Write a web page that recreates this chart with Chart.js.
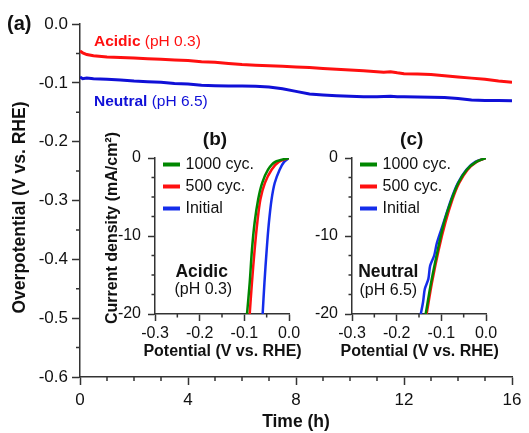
<!DOCTYPE html>
<html>
<head>
<meta charset="utf-8">
<script src="https://cdn.jsdelivr.net/npm/chart.js@4.4.0/dist/chart.umd.min.js"></script>
<style>
  body { margin: 0; background: #fff; }
  #wrap { position: relative; width: 529px; height: 433px; }
  canvas { position: absolute; }
</style>
</head>
<body>
<div id="wrap">
  <canvas id="main" width="529" height="433" style="left:0;top:0"></canvas>
  <canvas id="acid" width="214" height="242" style="left:90px;top:124px"></canvas>
  <canvas id="neut" width="214" height="242" style="left:302px;top:124px"></canvas>
</div>
<script>
// (a) chronopotentiometry, overpotential vs time
const timeHours = [0, 0.1, 0.25, 0.5, 1, 1.5, 2, 2.5, 3, 3.5, 4, 4.5, 5, 5.5, 6, 6.5, 7, 7.5, 8, 8.5,
  9, 9.5, 10, 10.5, 11, 11.25, 11.5, 11.75, 12, 12.5, 13, 13.5, 14, 14.5, 15, 15.5, 16];
const acidicOverpotential = [-0.046, -0.049, -0.052, -0.054, -0.056, -0.057, -0.058, -0.059, -0.060, -0.061,
  -0.062, -0.064, -0.065, -0.067, -0.069, -0.070, -0.071, -0.072, -0.073, -0.074, -0.0755, -0.077, -0.078,
  -0.0795, -0.081, -0.0818, -0.0812, -0.083, -0.0845, -0.085, -0.086, -0.088, -0.090, -0.092, -0.094, -0.097, -0.099];
const neutralOverpotential = [-0.090, -0.093, -0.092, -0.093, -0.094, -0.095, -0.097, -0.098, -0.099, -0.101,
  -0.102, -0.104, -0.105, -0.1055, -0.1055, -0.106, -0.107, -0.110, -0.1145, -0.119, -0.1205, -0.122, -0.123,
  -0.1238, -0.1236, -0.1234, -0.123, -0.1235, -0.1236, -0.124, -0.1245, -0.125, -0.1265, -0.129, -0.130, -0.130, -0.1305];

// (b) polarization curves, acidic
const acidCurrent = [0, -0.5, -1.5, -3.2, -5.3, -8.3, -11.8, -16, -20];
const acidPot1000 = [0, -0.031, -0.047, -0.060, -0.069, -0.077, -0.083, -0.088, -0.094];
const acidPot500 = [0, -0.023, -0.039, -0.054, -0.064, -0.071, -0.077, -0.083, -0.088];
const acidPotInitial = [0, -0.011, -0.021, -0.032, -0.039, -0.045, -0.050, -0.055, -0.059];

// (c) polarization curves, neutral
const neutCurrent = [0, -0.5, -1.5, -3.2, -5.3, -8.3, -11.8, -16, -20];
const neutPot1000 = [0, -0.022, -0.043, -0.062, -0.077, -0.094, -0.108, -0.123, -0.135];
const neutPot500 = [0, -0.021, -0.041, -0.060, -0.075, -0.091, -0.106, -0.121, -0.133];
const neutCurrentInitial = [0, -0.5, -1.5, -3.2, -5.3, -8.3, -10.9, -12.5, -13.8, -15.5, -16.8, -18.5, -20];
const neutPotInitial = [0, -0.024, -0.044, -0.063, -0.078, -0.095, -0.110, -0.116, -0.125, -0.129, -0.137, -0.141, -0.146];

const cycleLabels = ['1000 cyc.', '500 cyc.', 'Initial'];

const FONT = "'Liberation Sans', Arial, sans-serif";
const AXIS = '#333';
const INK = '#111';
const RED = 'rgb(255,16,16)';
const BLUE = 'rgb(16,16,215)';
const GREEN = 'rgb(0,135,0)';
const LBLUE = 'rgb(20,45,235)';

Chart.defaults.font.family = FONT;
Chart.defaults.color = INK;

const pairs = (xs, ys) => xs.map((x, i) => ({ x: x, y: ys[i] }));
const fmt1 = v => (Math.abs(v) < 1e-9 ? 0 : v).toFixed(1);

// short unlabeled ticks between the major ones
const minorTicks = {
  id: 'minorTicks',
  afterDraw(chart, args, opts) {
    const { ctx } = chart;
    const xs = chart.scales.x, ys = chart.scales.y;
    ctx.save();
    ctx.strokeStyle = AXIS;
    ctx.lineWidth = 1.5;
    ctx.beginPath();
    const nx = Math.round((xs.max - xs.min) / opts.xStep);
    for (let i = 1; i < nx; i++) {
      if (i % opts.xEvery === 0) continue;
      const px = xs.getPixelForValue(xs.min + i * opts.xStep);
      ctx.moveTo(px, xs.top);
      ctx.lineTo(px, xs.top + opts.len);
    }
    const ny = Math.round((ys.max - ys.min) / opts.yStep);
    for (let i = 1; i < ny; i++) {
      if (i % opts.yEvery === 0) continue;
      const py = ys.getPixelForValue(ys.min + i * opts.yStep);
      ctx.moveTo(ys.right, py);
      ctx.lineTo(ys.right - opts.len, py);
    }
    ctx.stroke();
    ctx.restore();
  }
};

// free text: panel letters, axis titles wider than the axis, in-plot notes
const textLayer = {
  id: 'textLayer',
  afterDraw(chart, args, opts) {
    const { ctx } = chart;
    for (const item of opts.items) {
      ctx.save();
      ctx.translate(item.x, item.y);
      if (item.rotate) ctx.rotate(item.rotate);
      ctx.textBaseline = 'middle';
      ctx.textAlign = 'left';
      const fonts = item.runs.map(r => (r.bold ? 'bold ' : '') + r.size + 'px ' + FONT);
      let total = 0;
      const widths = item.runs.map((r, i) => { ctx.font = fonts[i]; const w = ctx.measureText(r.text).width; total += w; return w; });
      let x = item.align === 'center' ? -total / 2 : 0;
      item.runs.forEach((r, i) => {
        ctx.font = fonts[i];
        ctx.fillStyle = r.color || INK;
        ctx.fillText(r.text, x, 0);
        x += widths[i];
      });
      ctx.restore();
    }
  }
};

// stacked legend in the upper left of the plot area
const lineLegend = {
  id: 'lineLegend',
  afterDraw(chart) {
    const { ctx, chartArea } = chart;
    ctx.save();
    ctx.font = '16px ' + FONT;
    ctx.textBaseline = 'middle';
    chart.data.datasets.forEach((ds, i) => {
      const y = chartArea.top + 6.5 + i * 22;
      ctx.strokeStyle = ds.borderColor;
      ctx.lineWidth = 4;
      ctx.beginPath();
      ctx.moveTo(chartArea.left + 8, y);
      ctx.lineTo(chartArea.left + 25, y);
      ctx.stroke();
      ctx.fillStyle = INK;
      ctx.fillText(ds.label, chartArea.left + 30.5, y);
    });
    ctx.restore();
  }
};

const axisStyle = (tickLen) => ({
  grid: { drawOnChartArea: false, drawTicks: true, tickLength: tickLen, tickColor: AXIS, tickWidth: 1.5 },
  border: { display: true, color: AXIS, width: 1.5 }
});

new Chart(document.getElementById('main'), {
  type: 'line',
  data: {
    datasets: [
      { label: 'Acidic (pH 0.3)', data: pairs(timeHours, acidicOverpotential), borderColor: RED,
        borderWidth: 3, pointRadius: 0, tension: 0 },
      { label: 'Neutral (pH 6.5)', data: pairs(timeHours, neutralOverpotential), borderColor: BLUE,
        borderWidth: 3, pointRadius: 0, tension: 0 }
    ]
  },
  options: {
    responsive: false,
    animation: false,
    events: [],
    layout: { padding: { left: 0, top: 24, right: 17, bottom: 0 } },
    plugins: {
      legend: { display: false },
      tooltip: { enabled: false },
      minorTicks: { xStep: 1, xEvery: 4, yStep: 0.05, yEvery: 2, len: 4 },
      textLayer: {
        items: [
          { x: 7, y: 24, runs: [{ text: '(a)', bold: true, size: 20 }] },
          { x: 94, y: 42, runs: [{ text: 'Acidic', bold: true, size: 15.5, color: RED },
                                 { text: ' (pH 0.3)', size: 15.5, color: RED }] },
          { x: 94, y: 102, runs: [{ text: 'Neutral', bold: true, size: 15.5, color: BLUE },
                                  { text: ' (pH 6.5)', size: 15.5, color: BLUE }] },
          { x: 20, y: 207.5, rotate: -Math.PI / 2, align: 'center',
            runs: [{ text: 'Overpotential (V vs. RHE)', bold: true, size: 17.5 }] }
        ]
      }
    },
    scales: {
      x: {
        type: 'linear', min: 0, max: 16,
        ticks: { stepSize: 4, padding: 5, font: { size: 17 }, color: INK },
        ...axisStyle(8),
        title: { display: true, text: 'Time (h)', font: { size: 17.5, weight: 'bold' }, color: INK,
                 padding: { top: 0, bottom: 0 } },
        afterFit(s) { s.height = 56; }
      },
      y: {
        type: 'linear', min: -0.6, max: 0,
        ticks: { stepSize: 0.1, padding: 4, font: { size: 17 }, color: INK, callback: fmt1 },
        ...axisStyle(8),
        afterFit(s) { s.width = 80; }
      }
    }
  },
  plugins: [minorTicks, textLayer]
});

function inset(canvasId, sets, notes, yAxisWidth, padRight) {
  return new Chart(document.getElementById(canvasId), {
    type: 'line',
    data: {
      datasets: sets.map(s => ({
        label: s.label, data: pairs(s.pot, s.cur), borderColor: s.color,
        borderWidth: 2.5, pointRadius: 0, tension: 0.3
      }))
    },
    options: {
      responsive: false,
      animation: false,
      events: [],
      layout: { padding: { left: 0, top: 34, right: padRight, bottom: 0 } },
      plugins: {
        legend: { display: false },
        tooltip: { enabled: false },
        minorTicks: { xStep: 0.05, xEvery: 2, yStep: 2.5, yEvery: 4, len: 3.5 },
        textLayer: { items: notes }
      },
      scales: {
        x: {
          type: 'linear', min: -0.3, max: 0,
          ticks: { stepSize: 0.1, padding: 2.5, font: { size: 16 }, color: INK, callback: fmt1 },
          ...axisStyle(7),
          afterFit(s) { s.height = 52; }
        },
        y: {
          type: 'linear', min: -20, max: 0,
          ticks: { stepSize: 10, padding: 7, font: { size: 16 }, color: INK },
          ...axisStyle(7),
          afterFit(s) { s.width = yAxisWidth; }
        }
      }
    },
    plugins: [minorTicks, lineLegend, textLayer]
  });
}

inset('acid', [
  { label: cycleLabels[0], pot: acidPot1000, cur: acidCurrent, color: GREEN },
  { label: cycleLabels[1], pot: acidPot500, cur: acidCurrent, color: RED },
  { label: cycleLabels[2], pot: acidPotInitial, cur: acidCurrent, color: LBLUE }
], [
  { x: 125, y: 16, align: 'center', runs: [{ text: '(b)', bold: true, size: 19 }] },
  { x: 22.5, y: 104, rotate: -Math.PI / 2, align: 'center',
    runs: [{ text: 'Current density (mA/cm²)', bold: true, size: 16 }] },
  { x: 132.5, y: 228, align: 'center', runs: [{ text: 'Potential (V vs. RHE)', bold: true, size: 16 }] },
  { x: 111.7, y: 147.7, align: 'center', runs: [{ text: 'Acidic', bold: true, size: 17.5 }] },
  { x: 113.3, y: 166, align: 'center', runs: [{ text: '(pH 0.3)', size: 16 }] }
], 65, 15);

inset('neut', [
  { label: cycleLabels[0], pot: neutPot1000, cur: neutCurrent, color: GREEN },
  { label: cycleLabels[1], pot: neutPot500, cur: neutCurrent, color: RED },
  { label: cycleLabels[2], pot: neutPotInitial, cur: neutCurrentInitial, color: LBLUE }
], [
  { x: 109.7, y: 16, align: 'center', runs: [{ text: '(c)', bold: true, size: 19 }] },
  { x: 117.7, y: 228, align: 'center', runs: [{ text: 'Potential (V vs. RHE)', bold: true, size: 16 }] },
  { x: 86.3, y: 147.7, align: 'center', runs: [{ text: 'Neutral', bold: true, size: 17.5 }] },
  { x: 86.3, y: 166.7, align: 'center', runs: [{ text: '(pH 6.5)', size: 16 }] }
], 50, 30);
</script>
</body>
</html>
